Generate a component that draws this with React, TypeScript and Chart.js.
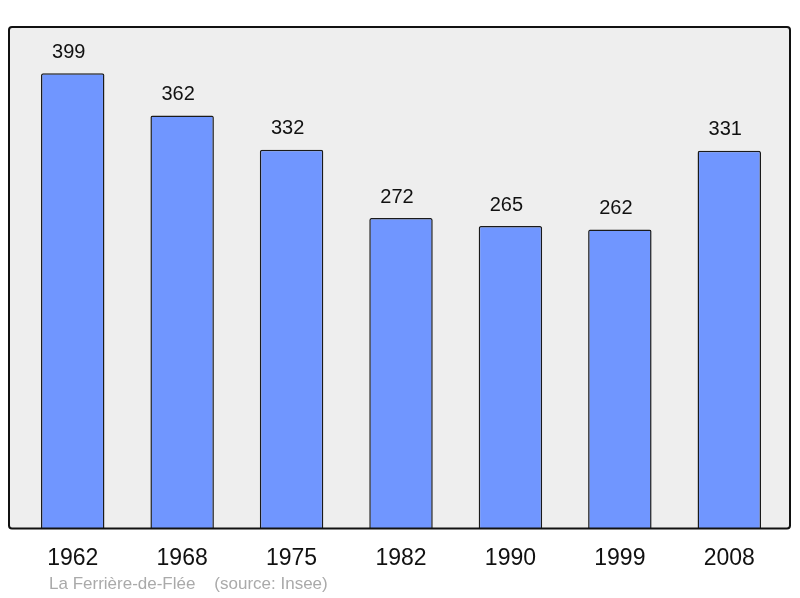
import React, { useEffect, useRef } from 'react';
import { Chart, registerables, Plugin } from 'chart.js';

Chart.register(...registerables);

// Population by census year
const years = ['1962', '1968', '1975', '1982', '1990', '1999', '2008'];
const population = [399, 362, 332, 272, 265, 262, 331];
const footerText = 'La Ferrière-de-Flée    (source: Insee)';

const FONT = '"Liberation Sans", Arial, sans-serif';

const framePlugin: Plugin<'bar'> = {
    id: 'frame',
    beforeDatasetsDraw(chart) {
        const { ctx, chartArea: a } = chart;
        ctx.save();
        ctx.beginPath();
        ctx.roundRect(a.left - 9, a.top, a.right - a.left + 15, a.bottom - a.top, 3);
        ctx.fillStyle = '#eeeeee';
        ctx.fill();
        ctx.restore();
    },
    afterDatasetsDraw(chart) {
        const { ctx, chartArea: a } = chart;
        ctx.save();
        // frame outline
        ctx.beginPath();
        ctx.roundRect(a.left - 9, a.top, a.right - a.left + 15, a.bottom - a.top, 3);
        ctx.lineWidth = 2;
        ctx.strokeStyle = '#111111';
        ctx.stroke();

        // value labels above bars
        const meta = chart.getDatasetMeta(0);
        ctx.fillStyle = '#111111';
        ctx.font = `20px ${FONT}`;
        ctx.textAlign = 'center';
        ctx.textBaseline = 'middle';
        meta.data.forEach((bar, i) => {
            ctx.fillText(String(population[i]), bar.x - 4, bar.y - 21);
        });

        // footer
        ctx.fillStyle = '#aaaaaa';
        ctx.font = `17px ${FONT}`;
        ctx.textAlign = 'left';
        ctx.fillText(footerText, 49, 584);
        ctx.restore();
    }
};

const App: React.FC = () => {
    const chartRef = useRef<HTMLCanvasElement>(null);

    useEffect(() => {
        document.body.style.margin = '0';
        if (!chartRef.current) return;
        const chart = new Chart(chartRef.current, {
            type: 'bar',
            data: {
                labels: years,
                datasets: [{
                    data: population,
                    backgroundColor: '#7096ff',
                    borderColor: '#1a1a1a',
                    borderWidth: 1.5,
                    borderRadius: 2,
                    categoryPercentage: 1,
                    barPercentage: 0.58
                }]
            },
            options: {
                responsive: true,
                maintainAspectRatio: false,
                animation: false,
                layout: { padding: { left: 18, right: 16, top: 27, bottom: 10 } },
                plugins: {
                    legend: { display: false },
                    tooltip: { enabled: false }
                },
                scales: {
                    x: {
                        grid: { display: false, drawTicks: false },
                        border: { display: false },
                        ticks: {
                            color: '#111111',
                            padding: 16,
                            font: { size: 23, family: FONT }
                        }
                    },
                    y: {
                        display: false,
                        min: 0,
                        max: 439.5
                    }
                }
            },
            plugins: [framePlugin]
        });
        return () => chart.destroy();
    }, []);

    return (
        <div style={{ width: 800, height: 598, position: 'relative' }}>
            <canvas ref={chartRef}></canvas>
        </div>
    );
};

export default App;
